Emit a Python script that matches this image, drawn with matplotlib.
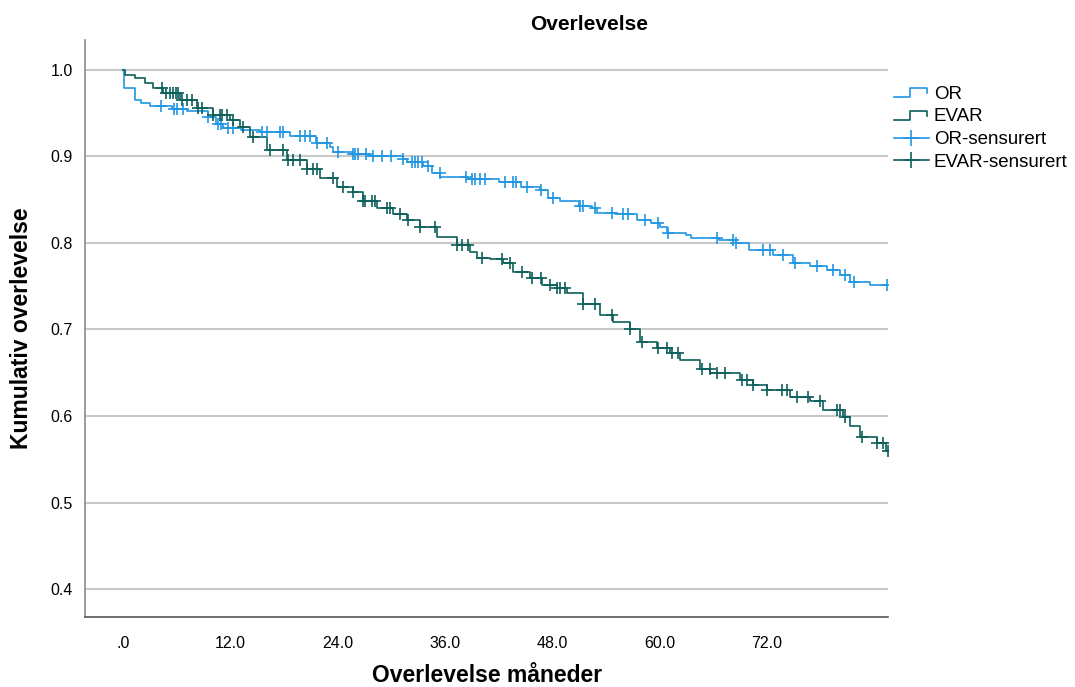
import numpy as np
import matplotlib
matplotlib.use('Agg')
import matplotlib.pyplot as plt
from matplotlib.lines import Line2D
from matplotlib.legend_handler import HandlerBase

plt.rcParams['font.family'] = ['Liberation Sans', 'DejaVu Sans']

# Kaplan-Meier knots (months, survival after the drop)
or_t = [0, 0.1, 1.3, 2.0, 3.0, 5.5, 7.2, 9.5, 10.4, 11.2, 13.2, 15.3, 18.7, 21.6, 23.1, 23.5,
        25.7, 27.5, 31.3, 31.8, 33.5, 34.5, 35.5, 38.5, 42.0, 44.5, 46.6, 47.5, 48.9, 51.0,
        52.5, 53.0, 55.0, 57.5, 59.0, 60.0, 60.8, 63.0, 63.5, 66.6, 68.5, 70.0, 72.7, 74.9,
        76.8, 78.7, 80.2, 81.3, 83.5, 85.5]
or_s = [1.0, 0.979, 0.965, 0.962, 0.958, 0.955, 0.952, 0.946, 0.937, 0.933, 0.931, 0.928, 0.924,
        0.916, 0.911, 0.905, 0.903, 0.900, 0.897, 0.894, 0.889, 0.881, 0.876, 0.874, 0.870,
        0.865, 0.861, 0.852, 0.848, 0.843, 0.840, 0.835, 0.833, 0.827, 0.823, 0.818, 0.812,
        0.809, 0.806, 0.803, 0.800, 0.792, 0.786, 0.777, 0.773, 0.769, 0.763, 0.755, 0.752, 0.752]

evar_t = [0, 0.2, 1.3, 2.5, 3.3, 4.5, 6.4, 8.3, 10.1, 12.0, 13.1, 14.2, 16.1, 18.3, 20.6, 22.0,
          23.9, 25.7, 26.8, 28.4, 30.2, 31.8, 33.2, 35.1, 37.3, 38.8, 39.6, 41.0, 42.5, 43.6,
          45.5, 46.9, 48.5, 49.6, 51.4, 53.3, 54.8, 56.7, 57.8, 59.7, 61.2, 62.3, 64.5, 65.7,
          69.0, 70.4, 72.0, 74.6, 76.8, 78.3, 80.5, 81.3, 82.4, 84.3, 85.3, 85.5]
evar_s = [1.0, 0.994, 0.991, 0.985, 0.979, 0.973, 0.965, 0.956, 0.948, 0.942, 0.934, 0.923,
          0.908, 0.896, 0.885, 0.875, 0.865, 0.859, 0.848, 0.841, 0.833, 0.827, 0.818, 0.807,
          0.798, 0.790, 0.783, 0.781, 0.777, 0.766, 0.760, 0.752, 0.748, 0.742, 0.729, 0.717,
          0.709, 0.700, 0.686, 0.679, 0.673, 0.665, 0.654, 0.650, 0.642, 0.636, 0.630, 0.622,
          0.617, 0.607, 0.599, 0.588, 0.576, 0.569, 0.559, 0.559]

# censored times (months)
or_cens = [4.2, 5.7, 6.0, 6.7, 9.5, 10.6, 11.0, 11.7, 12.3, 15.5, 16.1, 17.6, 17.9, 19.8, 20.3,
           20.9, 21.7, 22.8, 24.0, 25.7, 26.0, 26.3, 27.2, 28.0, 29.0, 30.0, 31.3, 32.3, 32.6,
           33.0, 33.4, 34.1, 35.4, 38.4, 39.0, 39.4, 39.9, 40.5, 42.7, 43.6, 44.0, 45.2, 46.8,
           48.1, 51.1, 51.4, 52.8, 54.7, 55.9, 56.5, 58.4, 59.8, 60.9, 66.4, 68.2, 68.6, 71.6,
           72.3, 73.8, 75.1, 77.6, 79.4, 80.7, 81.8, 85.4]
evar_cens = [4.4, 4.8, 5.3, 5.6, 5.9, 6.2, 6.6, 7.2, 7.7, 8.4, 8.8, 10.1, 10.8, 11.1, 11.6, 12.3,
             13.4, 14.5, 16.4, 17.9, 18.5, 19.0, 19.8, 20.6, 21.3, 21.7, 23.5, 24.6, 25.7, 26.8,
             27.1, 27.8, 28.2, 29.5, 29.9, 31.0, 31.9, 33.2, 34.9, 37.3, 37.9, 38.6, 40.2, 42.4,
             43.3, 44.6, 45.7, 46.8, 47.7, 48.5, 48.9, 49.4, 51.4, 52.8, 54.7, 56.7, 58.0, 59.8,
             60.8, 61.4, 62.1, 64.8, 65.6, 66.4, 67.3, 69.2, 69.8, 70.4, 72.0, 73.7, 74.2, 75.4,
             76.6, 77.9, 79.8, 80.2, 80.7, 82.6, 84.3, 85.0, 85.5]

x_ticks = [0, 12, 24, 36, 48, 60, 72]
x_labels = ['.0', '12.0', '24.0', '36.0', '48.0', '60.0', '72.0']
y_ticks = [0.4, 0.5, 0.6, 0.7, 0.8, 0.9, 1.0]

c_or = '#2196e3'
c_evar = '#0d5f5b'


def surv_at(t, ts, ss):
    i = np.searchsorted(ts, t, side='right') - 1
    return np.array(ss)[i]


class HandlerStep(HandlerBase):
    def create_artists(self, legend, orig_handle, xd, yd, w, h, fs, trans):
        xs = np.array([0, 0.45, 0.45, 0.95, 0.95]) * w - xd
        ys = np.array([0.1, 0.1, 0.8, 0.8, 0.4]) * h - yd
        ln = Line2D(xs, ys, color=orig_handle.get_color(), lw=1.2, transform=trans)
        return [ln]


fig = plt.figure(figsize=(10.75, 6.87), dpi=100)
ax = fig.add_axes([85/1075, 1-617/687, (888-85)/1075, (617-40)/687])

ax.step(or_t, or_s, where='post', color=c_or, lw=1.2)
ax.step(evar_t, evar_s, where='post', color=c_evar, lw=1.2)
ax.plot(or_cens, surv_at(or_cens, or_t, or_s), ls='none', marker='+', ms=8, mew=1.2, color=c_or)
ax.plot(evar_cens, surv_at(evar_cens, evar_t, evar_s), ls='none', marker='+', ms=8, mew=1.2, color=c_evar)

ax.set_xlim(-4.25, 85.55)
ax.set_ylim(0.3677, 1.0346)
ax.set_xticks(x_ticks)
ax.set_xticklabels(x_labels)
ax.set_yticks(y_ticks)
ax.set_yticklabels([f'{v:.1f}' for v in y_ticks])
ax.tick_params(length=0, labelsize=11.5, pad=14)
ax.tick_params(axis='y', pad=9)
ax.grid(axis='y', color='#c8c8c8', lw=1.5)
ax.set_axisbelow(True)
for s in ['top', 'right']:
    ax.spines[s].set_visible(False)
ax.spines['left'].set_color('#8a8a8a')
ax.spines['bottom'].set_color('#555555')
ax.spines['left'].set_linewidth(1.2)
ax.spines['bottom'].set_linewidth(1.2)

fig.text(487/1075, 1-675/687, 'Overlevelse måneder', ha='center', va='center',
         fontsize=16.5, fontweight='bold')
fig.text(22/1075, 1-328/687, 'Kumulativ overlevelse', ha='center', va='center', rotation=90,
         fontsize=16.5, fontweight='bold')
fig.text(589/1075, 1-24/687, 'Overlevelse', ha='center', va='center', fontsize=15, fontweight='bold')

handles = [Line2D([], [], color=c_or), Line2D([], [], color=c_evar),
           Line2D([], [], color=c_or, marker='+', ms=12, mew=1.2, lw=1.2),
           Line2D([], [], color=c_evar, marker='+', ms=12, mew=1.2, lw=1.2)]
labels = ['OR', 'EVAR', 'OR-sensurert', 'EVAR-sensurert']
fig.legend(handles, labels, loc='upper left', bbox_to_anchor=(886/1075, 1-78/687),
           borderaxespad=0, frameon=False, fontsize=13.5, handlelength=1.9, handletextpad=0.25,
           labelspacing=0.3,
           handler_map={handles[0]: HandlerStep(), handles[1]: HandlerStep()})

fig.savefig('out.png', dpi=100)
